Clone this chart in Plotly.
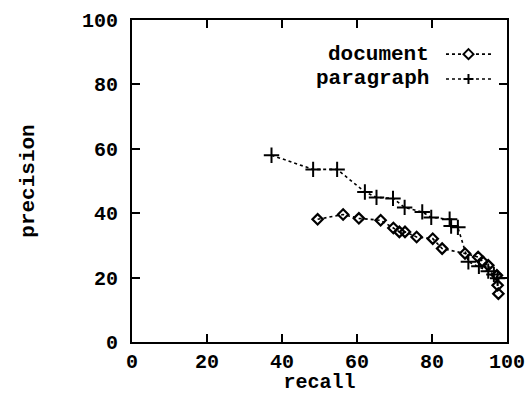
import plotly.graph_objects as go

# ---- data ----
doc_recall = [49.5, 56.3, 60.5, 66.3, 69.7, 71.3, 72.8, 75.9, 80.2, 82.7, 88.8, 92.3, 93.5, 95.0, 97.3, 97.5, 97.7]
doc_precision = [38.1, 39.6, 38.4, 37.8, 35.4, 34.2, 34.2, 32.6, 32.1, 29.0, 27.5, 26.4, 25.0, 23.8, 20.7, 17.6, 15.0]

par_recall = [37.2, 48.3, 54.7, 62.1, 65.2, 69.6, 72.7, 77.4, 79.8, 84.7, 85.1, 86.9, 89.7, 92.5, 95.0, 96.5, 97.5]
par_precision = [58.0, 53.6, 53.6, 46.6, 44.9, 44.6, 41.8, 40.4, 38.7, 38.1, 36.0, 35.6, 24.9, 23.5, 22.0, 21.0, 19.8]

series_names = ["document", "paragraph"]
tick_vals = [0, 20, 40, 60, 80, 100]
tick_text = ["0", "20", "40", "60", "80", "100"]

FONT = "Liberation Mono, Courier New, monospace"
DASH = "3px,3px"

fig = go.Figure()
fig.add_trace(go.Scatter(
    x=doc_recall, y=doc_precision, mode="lines+markers", name=series_names[0],
    line=dict(color="black", width=1.6, dash=DASH),
    marker=dict(symbol="diamond-open", size=8, color="black", line=dict(width=2.2, color="black")),
    showlegend=False))
fig.add_trace(go.Scatter(
    x=par_recall, y=par_precision, mode="lines+markers", name=series_names[1],
    line=dict(color="black", width=1.6, dash=DASH),
    marker=dict(symbol="cross-thin-open", size=11, color="black", line=dict(width=2, color="black")),
    showlegend=False))

axis_common = dict(
    range=[0, 100], tickvals=tick_vals, ticktext=tick_text, automargin=False,
    showgrid=False, zeroline=False, showline=True, linecolor="black", linewidth=2,
    ticks="inside", ticklen=8, tickwidth=1.5, tickcolor="black", mirror="ticks",
    tickfont=dict(family=FONT, size=20, color="black", weight="bold"),
)

fig.update_xaxes(**axis_common,
                 title=dict(text="recall", font=dict(family=FONT, size=20, color="black", weight="bold"), standoff=18),
                 ticklabelstandoff=0)
fig.update_yaxes(**axis_common,
                 title=dict(text="precision", font=dict(family=FONT, size=21, color="black", weight="bold"), standoff=42),
                 ticklabelstandoff=8)

# legend drawn as text + sample line (text on the left, sample on the right)
leg_rows = [0.894, 0.817]
x_text = 0.797
x0s, x1s, xm = 0.8373, 0.9573, 0.8973
for name, yy, sym in zip(series_names, leg_rows, ["diamond", "cross"]):
    fig.add_annotation(x=x_text, y=yy, xref="paper", yref="paper", text=name, showarrow=False,
                       xanchor="right", yanchor="middle",
                       font=dict(family=FONT, size=21, color="black", weight="bold"))
    fig.add_shape(type="line", xref="paper", yref="paper", x0=x0s, x1=x1s, y0=yy, y1=yy,
                  line=dict(color="black", width=1.6, dash=DASH))
    if sym == "diamond":
        path = "M 0,5 L 5,0 L 0,-5 L -5,0 Z"
        fill = "white"
    else:
        path = "M -5,0 L 5,0 M 0,-5 L 0,5"
        fill = None
    fig.add_shape(type="path", xref="paper", yref="paper", xsizemode="pixel", ysizemode="pixel",
                  xanchor=xm, yanchor=yy, path=path, fillcolor=fill,
                  line=dict(color="black", width=2))

fig.update_layout(
    width=530, height=394,
    margin=dict(l=132, r=23, t=20, b=52),
    paper_bgcolor="white", plot_bgcolor="white",
    font=dict(family=FONT, color="black"),
)

# remove the default page margin and scrollbars so the figure fills the window exactly
fig.write_html(
    "out.html",
    config={"displayModeBar": False},
    post_script="document.body.style.margin='0';document.body.style.overflow='hidden';"
                "document.documentElement.style.overflow='hidden';",
)
